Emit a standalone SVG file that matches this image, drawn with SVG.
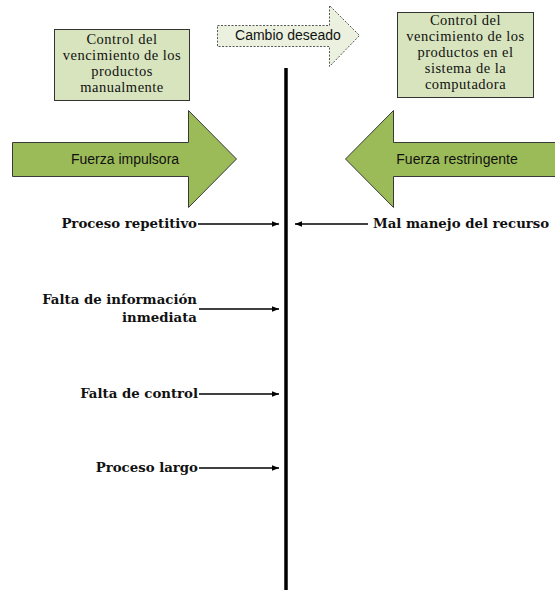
<svg xmlns="http://www.w3.org/2000/svg" width="555" height="590" viewBox="0 0 555 590">
  <defs>
    <marker id="ah" viewBox="0 0 10 10" refX="10" refY="5" markerWidth="7" markerHeight="7" markerUnits="userSpaceOnUse" orient="auto">
      <path d="M0,1 L10,5 L0,9 Z" fill="#000"/>
    </marker>
    <style>
      .box { fill: #d7e4bd; stroke: #333; stroke-width: 1; }
      .box-t { font-family: "Liberation Serif", "Times New Roman", serif; font-size: 14.5px; letter-spacing: 0.5px; fill: #111; text-anchor: middle; }
      .force { fill: #9bbb59; stroke: #3a3a3a; stroke-width: 1; }
      .force-t { font-family: "Liberation Sans", Arial, sans-serif; font-size: 14px; fill: #111; text-anchor: middle; }
      .change { fill: #ebf1de; stroke: #555; stroke-width: 1; stroke-dasharray: 2 1.5; }
      .lbl { font-family: "DejaVu Serif", "Liberation Serif", serif; font-size: 13.3px; font-weight: bold; fill: #111; }
      .conn { stroke: #000; stroke-width: 1.4; fill: none; marker-end: url(#ah); }
    </style>
  </defs>
  <rect width="555" height="590" fill="#fff"/>

  <!-- central axis -->
  <line x1="286" y1="68" x2="286" y2="590" stroke="#000" stroke-width="3.5"/>

  <g id="estado-actual">
    <rect class="box" x="54.5" y="29.5" width="135" height="71"/>
    <text class="box-t" x="122" y="44">Control del</text>
    <text class="box-t" x="122" y="60">vencimiento de los</text>
    <text class="box-t" x="122" y="76">productos</text>
    <text class="box-t" x="122" y="92">manualmente</text>
  </g>

  <g id="estado-deseado">
    <rect class="box" x="397.5" y="12.5" width="136" height="85"/>
    <text class="box-t" x="465.5" y="25">Control del</text>
    <text class="box-t" x="465.5" y="41">vencimiento de los</text>
    <text class="box-t" x="465.5" y="57">productos en el</text>
    <text class="box-t" x="465.5" y="73">sistema de la</text>
    <text class="box-t" x="465.5" y="89">computadora</text>
  </g>

  <g id="cambio-deseado">
    <path class="change" d="M217.5,25.5 H329.5 V5.5 L359.5,35.5 L329.5,66.5 V46.5 H217.5 Z"/>
    <text class="force-t" x="288" y="40">Cambio deseado</text>
  </g>

  <g id="fuerza-impulsora">
    <path class="force" d="M12.5,142.5 H188.5 V110.5 L236.5,159 L188.5,207.5 V176.5 H12.5 Z"/>
    <text class="force-t" x="125" y="164">Fuerza impulsora</text>
  </g>

  <g id="fuerza-restringente">
    <path class="force" d="M556,142.5 H393.5 V110.5 L345.5,159 L393.5,207.5 V176.5 H556 Z"/>
    <text class="force-t" x="457" y="164">Fuerza restringente</text>
  </g>

  <g id="proceso-repetitivo">
    <text class="lbl" x="197" y="228" text-anchor="end">Proceso repetitivo</text>
  </g>
  <g id="mal-manejo">
    <text class="lbl" x="373" y="228">Mal manejo del recurso</text>
  </g>
  <g id="falta-informacion">
    <text class="lbl" x="197" y="304" text-anchor="end">Falta de información</text>
    <text class="lbl" x="197" y="322" text-anchor="end">inmediata</text>
  </g>
  <g id="falta-control">
    <text class="lbl" x="198" y="398" text-anchor="end">Falta de control</text>
  </g>
  <g id="proceso-largo">
    <text class="lbl" x="198" y="472" text-anchor="end">Proceso largo</text>
  </g>

  <g id="connectors">
    <line class="conn" x1="198" y1="224" x2="279" y2="224"/>
    <line class="conn" x1="368" y1="224" x2="295" y2="224"/>
    <line class="conn" x1="199" y1="309" x2="279" y2="309"/>
    <line class="conn" x1="199" y1="394" x2="279" y2="394"/>
    <line class="conn" x1="199" y1="468" x2="279" y2="468"/>
  </g>
</svg>
